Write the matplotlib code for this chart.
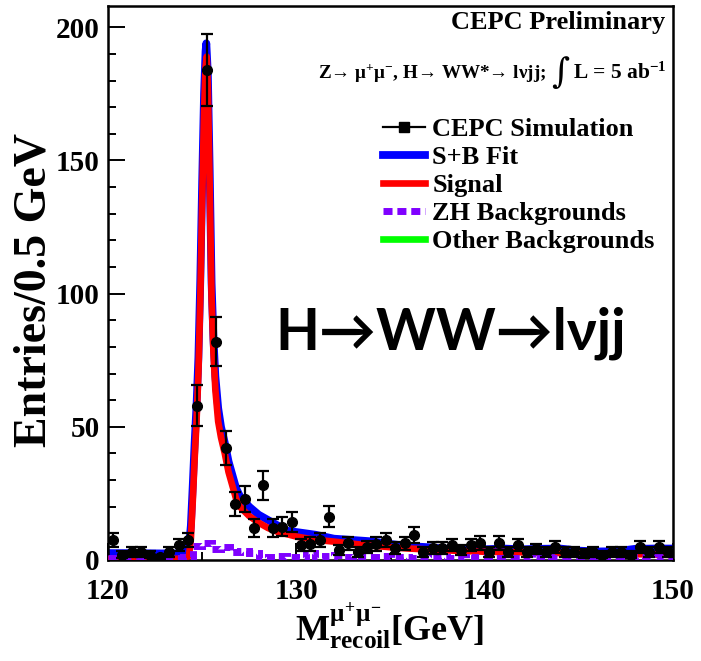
import numpy as np
import matplotlib
matplotlib.use("Agg")
import matplotlib.pyplot as plt
from matplotlib.lines import Line2D
from matplotlib.ticker import MultipleLocator

plt.rcParams["font.family"] = ["Liberation Serif", "DejaVu Serif"]
plt.rcParams["font.weight"] = "bold"
plt.rcParams["mathtext.fontset"] = "custom"
plt.rcParams["mathtext.rm"] = "Liberation Serif:bold"
plt.rcParams["mathtext.it"] = "Liberation Serif:bold"
plt.rcParams["mathtext.bf"] = "Liberation Serif:bold"

# ---- simulated recoil-mass spectrum, 0.5 GeV bins (bin centres) ----
data_x = [120.25, 120.75, 121.25, 121.75, 122.25, 122.75, 123.25, 123.75,
          124.25, 124.75, 125.25, 125.75, 126.25, 126.75, 127.25, 127.75,
          128.25, 128.75, 129.25, 129.75, 130.25, 130.75, 131.25, 131.75,
          132.25, 132.75, 133.25, 133.75, 134.25, 134.75, 135.25, 135.75,
          136.25, 136.75, 137.25, 137.75, 138.25, 138.75, 139.25, 139.75,
          140.25, 140.75, 141.25, 141.75, 142.25, 142.75, 143.25, 143.75,
          144.25, 144.75, 145.25, 145.75, 146.25, 146.75, 147.25, 147.75,
          148.25, 148.75, 149.25, 149.75]
data_y = [7.5, 2, 3, 3, 2, 1, 3, 5.6,
          7.5, 58, 184, 82, 42, 21, 23, 12,
          28, 12, 12.5, 14.4, 5.6, 6, 7.5, 16.3,
          3.8, 6.3, 3, 5, 6, 7.5, 4.5, 6.3,
          9.4, 3, 4.5, 4.5, 5.6, 3.8, 5.6, 6.4,
          3, 6.4, 3, 5.6, 3, 4.1, 3, 5,
          3, 3, 2.5, 3, 2, 3, 3, 2,
          5, 3, 5, 3]

# ---- signal shape ----
sig_x = [120, 121, 122, 123, 124, 124.3, 124.4, 124.5, 124.6, 124.7, 124.8,
         124.9, 125.0, 125.1, 125.18, 125.24, 125.3, 125.4, 125.5, 125.6,
         125.7, 125.85, 126.0, 126.2, 126.4, 126.6, 126.8, 127.0, 127.5,
         128, 128.5, 129, 130, 131, 132, 133, 134, 135, 136, 138, 140, 142,
         144, 146, 148, 150]
sig_y = [0.3, 0.3, 0.3, 0.4, 0.5, 1.5, 8, 22, 38, 52, 70,
         98, 135, 168, 185, 189, 178, 140, 98, 78,
         64, 52, 46, 40, 33, 28, 23, 20, 16.5,
         14, 12, 10.6, 8.8, 7.6, 6.9, 6.1, 5.4, 4.8, 4.3, 3.6, 3.1, 2.9,
         2.6, 2.4, 2.2, 1.9]

# ---- signal + background fit ----
fit_x = [120, 122, 124, 124.3, 124.4, 124.5, 124.6, 124.7, 124.8, 124.9,
         125.0, 125.1, 125.18, 125.22, 125.3, 125.4, 125.5, 125.6, 125.7,
         125.85, 126.0, 126.2, 126.4, 126.6, 126.8, 127, 127.5, 128, 128.5,
         129, 129.5, 130, 131, 132, 133, 134, 135, 136, 137, 138, 139, 140,
         141, 142, 143, 144, 145, 146, 147, 148, 149, 150]
fit_y = [2.6, 2.5, 2.4, 5, 13, 28, 44, 58, 76, 105,
         142, 175, 191, 194, 183, 146, 104, 83, 69,
         57, 50, 44, 37, 32, 27, 24, 20, 17, 15,
         13, 11, 10.5, 9.5, 8, 7.5, 7, 6, 5.2, 4.8, 4.2, 4, 4,
         4.3, 4, 4.2, 4.3, 3.5, 3.2, 3.3, 4.2, 4.3, 4.3]

# ---- ZH backgrounds (histogram, 0.5 GeV bins) ----
zh_edges = list(np.arange(120.0, 150.01, 0.5))
zh_counts = [0.8, 0.8, 0.8, 0.8, 0.8, 0.8, 0.8, 0.8,
             1.0, 5.3, 6.5, 4.2, 5.0, 3.0, 3.2, 2.8,
             0.8, 1.0, 1.5, 1.2, 0.9, 2.8, 0.9, 1.6,
             1.8, 1.3, 1.6, 1.0, 1.2, 1.5, 0.9, 1.1,
             0.8, 1.0, 0.8, 1.1, 0.8, 1.0, 0.8, 1.1,
             1.3, 0.8, 0.9, 0.9, 1.0, 0.9, 1.3, 0.9,
             0.8, 0.8, 0.9, 1.0, 1.2, 0.9, 0.8, 0.9,
             1.0, 0.9, 1.3, 1.0]

data_err = np.sqrt(np.array(data_y))

W, H = 701, 661
fig = plt.figure(figsize=(W / 100, H / 100), dpi=100)
ax = fig.add_axes([108 / W, 1 - 560 / H, (673 - 108) / W, (560 - 6) / H])

ax.plot(fit_x, fit_y, color="#0000ff", lw=5.6, solid_joinstyle="round", zorder=2)
ax.plot(sig_x, sig_y, color="#ff0000", lw=4.8, solid_joinstyle="round", zorder=3)
ax.stairs(zh_counts, zh_edges, color="#7f00ff", lw=5.0, linestyle=(0, (1.3, 0.7)),
          zorder=4, baseline=None)

ax.errorbar(data_x, data_y, xerr=0.25, fmt="none", ecolor="black", elinewidth=1.6,
            capsize=0, zorder=5)
ax.errorbar(data_x, data_y, yerr=data_err, fmt="o", color="black", ms=7,
            elinewidth=1.6, capsize=4, capthick=1.6, zorder=6)

ax.set_xlim(120, 150)
ax.set_ylim(0, 208)
ax.xaxis.set_major_locator(MultipleLocator(10))
ax.xaxis.set_minor_locator(MultipleLocator(5))
ax.yaxis.set_major_locator(MultipleLocator(50))
ax.yaxis.set_minor_locator(MultipleLocator(10))
ax.tick_params(which="both", direction="in", top=False, right=False, width=1.4,
               labelsize=21)
ax.tick_params(which="major", length=12)
ax.tick_params(which="minor", length=6)
ax.tick_params(axis="x", pad=13)
ax.tick_params(axis="y", pad=6)
for s in ax.spines.values():
    s.set_linewidth(1.8)

fig.text(35 / W, 1 - 290 / H, "Entries/0.5 GeV", rotation=90, fontsize=33,
         ha="center", va="center")
fig.text(390 / W, 1 - 626 / H, r"M$^{\mu^{+}\mu^{-}}_{\rm recoil}$[GeV]",
         fontsize=26, ha="center", va="center")

fig.text(665 / W, 1 - 23 / H, "CEPC Preliminary", fontsize=19,
         ha="right", va="center")
fig.text(667 / W, 1 - 73 / H, r"L = 5 ab$^{-1}$", fontsize=15.5,
         ha="right", va="center")
fig.text(569 / W, 1 - 73 / H, "\u222b", fontsize=25,
         ha="right", va="center", family=["DejaVu Serif"], weight="normal")
fig.text(546 / W, 1 - 73 / H,
         "Z\u2192 \u03bc$^{+}$\u03bc$^{-}$, H\u2192 WW*\u2192 l\u03bdjj;",
         fontsize=13.8, ha="right", va="center")

fig.text(275 / W, 1 - 333 / H, "H\u2192WW\u2192l\u03bdjj", fontsize=41,
         ha="left", va="center", family=["Lato", "DejaVu Sans"], weight="bold")

handles = [
    Line2D([0], [0], color="black", lw=1.6, marker="s", ms=7),
    Line2D([0], [0], color="#0000ff", lw=5.6),
    Line2D([0], [0], color="#ff0000", lw=4.8),
    Line2D([0], [0], color="#7f00ff", lw=5.0, linestyle=(0, (1.3, 0.7))),
    Line2D([0], [0], color="#00ff00", lw=4.8),
]
labels = ["CEPC Simulation", "S+B Fit", "Signal", "ZH Backgrounds", "Other Backgrounds"]
fig.legend(handles, labels, loc="upper left", bbox_to_anchor=(383 / W, 1 - 118 / H),
           frameon=False, fontsize=19, handlelength=1.6, handletextpad=0.27,
           labelspacing=0.17, borderpad=0, borderaxespad=0)

fig.savefig("out.png", dpi=100)
